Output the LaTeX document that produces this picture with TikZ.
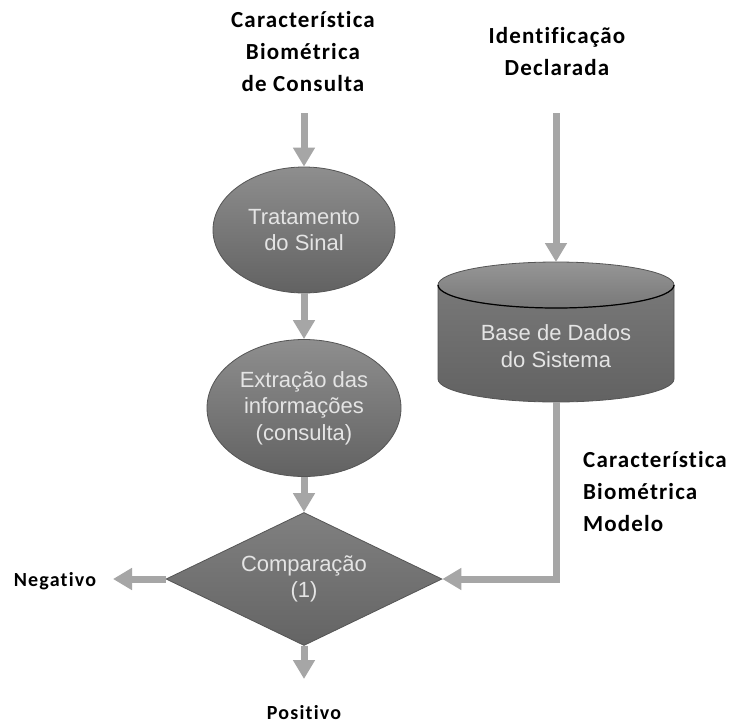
\documentclass[tikz,border=0pt]{standalone}
\usepackage{fontspec}
\setmainfont{Liberation Sans}
\newfontfamily\lblfont[LetterSpace=5,Ligatures=NoCommon]{Carlito}
\newfontfamily\sidefont[LetterSpace=6,Ligatures=NoCommon]{Carlito}
\usetikzlibrary{arrows.meta,shapes.geometric}
\definecolor{arrowgray}{RGB}{166,166,166}
\definecolor{shtop}{RGB}{142,142,142}
\definecolor{shbot}{RGB}{98,98,98}
\definecolor{shedge}{RGB}{85,85,85}
\definecolor{dtop}{RGB}{128,128,128}
\definecolor{dbot}{RGB}{100,100,100}
\definecolor{cyltop}{RGB}{150,150,150}
\definecolor{cylmid}{RGB}{120,120,120}
\definecolor{txtgray}{RGB}{228,228,228}
\begin{document}
\begin{tikzpicture}[x=1pt,y=-1pt,
  arr/.style={draw=arrowgray, line width=7pt, -{Triangle[width=21pt,length=19pt]}},
  lbl/.style={font=\lblfont\bfseries\fontsize{23}{32}\selectfont, align=center, text=black, inner sep=0pt},
  sidelbl/.style={font=\sidefont\bfseries\fontsize{20}{22}\selectfont, text=black, inner sep=0pt},
  intxt/.style={text=txtgray, font=\fontsize{22}{26.5}\selectfont, align=center, inner sep=0pt},
  procbox/.style={ellipse, intxt, top color=shtop, bottom color=shbot, draw=shedge, line width=0.8pt},
  decbox/.style={diamond, intxt, aspect=2.07, top color=dtop, bottom color=dbot, draw=shedge, line width=0.8pt, minimum width=276pt, minimum height=133pt}]
\fill[white] (0,0) rectangle (735,725);
\useasboundingbox (0,0) rectangle (735,725);

% labels
\node[lbl] (cons) at (303,52) {Característica\\Biométrica\\de Consulta};
\node[lbl] (ident) at (557,52) {Identificação\\Declarada};
\node[lbl, align=left, anchor=west] (modelo) at (583,492) {Característica\\Biométrica\\Modelo};
\node[sidelbl] (neg) at (55,581) {Negativo};
\node[sidelbl] (pos) at (304,713) {Positivo};

% process shapes
\node[procbox, minimum width=182pt, minimum height=126pt] (trat) at (304,230) {Tratamento\\do Sinal};
\node[procbox, minimum width=194pt, minimum height=137pt] (extr) at (304,408) {Extração das\\informações\\(consulta)};
\node[decbox] (cmp) at (304,579) {Comparação\\(1)};

% database cylinder
\shade[top color=cylmid, bottom color=shbot, draw=shedge, line width=0.8pt]
  (438,285) -- (438,379) arc[start angle=180, end angle=0, x radius=118, y radius=23] -- (674,285) -- cycle;
\shade[top color=cyltop, bottom color=cylmid, draw=shedge, line width=0.8pt]
  (556,285) ellipse [x radius=118, y radius=23];
\draw[black, line width=1.2pt] (438,285) arc[start angle=180, end angle=0, x radius=118, y radius=23];
\node[intxt] (db) at (556,346) {Base de Dados\\do Sistema};
\coordinate (dbtop) at (556,262);
\coordinate (dbbot) at (556,402);

% connector ends
\coordinate (consout) at (304,113);
\coordinate (identout) at (556,113);
\coordinate (negend) at (113,579);
\coordinate (posend) at (304,679);

% connectors
\draw[arr] (consout) -- (trat.north);
\draw[arr] (trat.south) -- (extr.north);
\draw[arr] (extr.south) -- (cmp.north);
\draw[arr] (cmp.west) -- (negend);
\draw[arr] (cmp.south) -- (posend);
\draw[arr] (identout) -- (dbtop);
\draw[arr] (dbbot) |- (cmp.east);
\end{tikzpicture}
\end{document}
